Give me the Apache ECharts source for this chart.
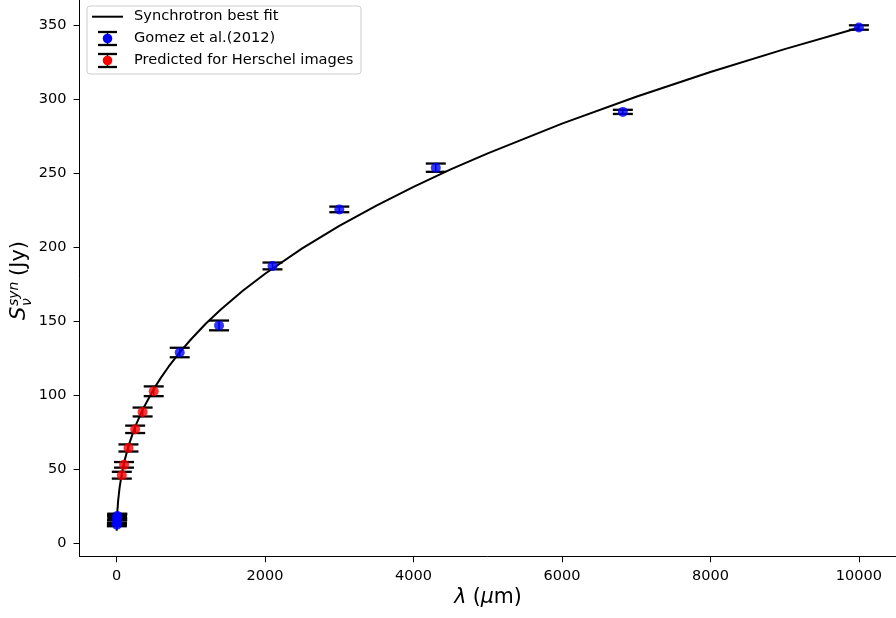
<!DOCTYPE html>
<html>
<head>
<meta charset="utf-8">
<script src="https://cdn.jsdelivr.net/npm/echarts@6/dist/echarts.min.js"></script>
<style>html,body{margin:0;padding:0;background:#fff;}#c{width:896px;height:618px;}</style>
</head>
<body>
<div id="c"></div>
<script>
// Synchrotron best-fit curve
const fitLambda = [1, 3, 6, 10, 20, 40, 70, 100, 160, 250, 350, 500, 600, 700, 850, 1000, 1200, 1400, 1700, 2000, 2500, 3000, 3500, 4000, 4500, 5000, 6000, 7000, 8000, 9000, 10000];
const fitFlux   = [8.5, 13.3, 17.5, 21.5, 28.5, 37.6, 47.1, 54.5, 65.8, 78.8, 90.2, 104.2, 112.1, 119.3, 129.0, 137.7, 148.3, 157.8, 170.6, 182.1, 199.3, 214.5, 228.2, 240.8, 252.6, 263.5, 283.6, 301.7, 318.4, 333.9, 348.4];

// Gomez et al. (2012)
const gomezLambda = [3.6, 4.5, 5.8, 8, 8.5, 850, 1380, 2100, 3000, 4300, 6820, 10000];
const gomezFlux   = [12.5, 14, 16, 17.5, 18.5, 128.9, 147.2, 187.4, 225.6, 253.8, 291.5, 348.5];
const gomezErr    = [1, 1.5, 2.5, 2, 1.5, 3.2, 3.3, 2.3, 1.9, 2.8, 1.4, 1.5];

// Predicted for Herschel images
const herschelLambda = [70, 100, 160, 250, 350, 500];
const herschelFlux   = [46, 53, 64.4, 77, 88.7, 102.7];
const herschelErr    = [2.3, 1.9, 2.4, 2.5, 3.0, 3.3];

const xTicks = [0, 2000, 4000, 6000, 8000, 10000];
const yTicks = [0, 50, 100, 150, 200, 250, 300, 350];

const FONT = 'DejaVu Sans';
const fitData = fitLambda.map((x, i) => [x, fitFlux[i]]);
const gomezData = gomezLambda.map((x, i) => [x, gomezFlux[i], gomezErr[i]]);
const herschelData = herschelLambda.map((x, i) => [x, herschelFlux[i], herschelErr[i]]);

function errRender(params, api) {
  const x = api.value(0), y = api.value(1), e = api.value(2);
  const t = api.coord([x, y + e]);
  const b = api.coord([x, y - e]);
  const hw = 10;
  return {
    type: 'group',
    children: [
      {type: 'line', shape: {x1: t[0], y1: t[1], x2: b[0], y2: b[1]}, style: {stroke: '#000', lineWidth: 1.5}},
      {type: 'line', shape: {x1: t[0] - hw, y1: t[1], x2: t[0] + hw, y2: t[1]}, style: {stroke: '#000', lineWidth: 2.3}},
      {type: 'line', shape: {x1: b[0] - hw, y1: b[1], x2: b[0] + hw, y2: b[1]}, style: {stroke: '#000', lineWidth: 2.3}}
    ]
  };
}

const chart = echarts.init(document.getElementById('c'), null, {renderer: 'canvas'});

const legendX = 87, legendY = 6;
function errIcon(cy, color) {
  const cx = 107.5;
  return [
    {type: 'line', shape: {x1: cx, y1: cy - 6, x2: cx, y2: cy + 6}, style: {stroke: '#000', lineWidth: 1.5}, z: 101},
    {type: 'line', shape: {x1: cx - 9.5, y1: cy - 6.5, x2: cx + 9.5, y2: cy - 6.5}, style: {stroke: '#000', lineWidth: 2.3}, z: 101},
    {type: 'line', shape: {x1: cx - 9.5, y1: cy + 6.5, x2: cx + 9.5, y2: cy + 6.5}, style: {stroke: '#000', lineWidth: 2.3}, z: 101},
    {type: 'circle', shape: {cx: cx, cy: cy, r: 4.8}, style: {fill: color}, z: 102}
  ];
}

const LEG_FONT = '14.6px "DejaVu Sans"';
const option = {
  animation: false,
  backgroundColor: '#fff',
  grid: {left: 79.5, top: 0, width: 818, height: 556.3, containLabel: false},
  xAxis: {
    type: 'value', min: -500, max: 10500,
    axisLine: {show: true, onZero: false, lineStyle: {color: '#000', width: 1}},
    axisTick: {show: true, length: 6, lineStyle: {color: '#000'}, customValues: xTicks},
    axisLabel: {color: '#000', fontSize: 14.5, fontFamily: FONT, margin: 12, customValues: xTicks,
                formatter: v => String(v)},
    splitLine: {show: false}
  },
  yAxis: {
    type: 'value', min: -8.8, max: 367.1,
    axisLine: {show: true, onZero: false, lineStyle: {color: '#000', width: 1}},
    axisTick: {show: true, length: 6, lineStyle: {color: '#000'}, customValues: yTicks},
    axisLabel: {color: '#000', fontSize: 14.5, fontFamily: FONT, margin: 13, customValues: yTicks,
                formatter: v => String(v)},
    splitLine: {show: false}
  },
  series: [
    {type: 'line', name: 'Synchrotron best fit', data: fitData, showSymbol: false, smooth: false,
     lineStyle: {color: '#000', width: 2}, z: 2},
    {type: 'custom', name: 'gomezErr', data: gomezData, renderItem: errRender, encode: {x: 0, y: 1}, z: 3, clip: false},
    {type: 'custom', name: 'herschelErr', data: herschelData, renderItem: errRender, encode: {x: 0, y: 1}, z: 3, clip: false},
    {type: 'scatter', name: 'Gomez et al.(2012)', data: gomezData.map(d => [d[0], d[1]]), symbolSize: 10,
     itemStyle: {color: '#0000ff'}, z: 4},
    {type: 'scatter', name: 'Predicted for Herschel images', data: herschelData.map(d => [d[0], d[1]]), symbolSize: 10,
     itemStyle: {color: '#ff0000'}, z: 4}
  ],
  graphic: [
    // legend
    {type: 'rect', shape: {x: legendX, y: legendY, width: 274, height: 68, r: 3},
     style: {fill: 'rgba(255,255,255,0.8)', stroke: '#cccccc', lineWidth: 1}, z: 100},
    {type: 'line', shape: {x1: 92, y1: 16.7, x2: 123, y2: 16.7}, style: {stroke: '#000', lineWidth: 2}, z: 101},
    {type: 'text', x: 134, y: 16.7, style: {text: 'Synchrotron best fit', font: LEG_FONT, fill: '#000', verticalAlign: 'middle'}, z: 101},
    ...errIcon(38.5, '#0000ff'),
    {type: 'text', x: 134, y: 38.5, style: {text: 'Gomez et al.(2012)', font: LEG_FONT, fill: '#000', verticalAlign: 'middle'}, z: 101},
    ...errIcon(60.5, '#ff0000'),
    {type: 'text', x: 134, y: 60.5, style: {text: 'Predicted for Herschel images', font: LEG_FONT, fill: '#000', verticalAlign: 'middle'}, z: 101},
    // x axis title
    {type: 'text', x: 488, y: 598, style: {
      text: '{i|λ} ({i|μ}m)', fontFamily: FONT, fontSize: 20.5, fill: '#000', align: 'center', verticalAlign: 'middle',
      rich: {i: {fontStyle: 'italic', fontFamily: FONT, fontSize: 20.5, fill: '#000'}}
    }},
    // y axis title (rotated)
    {type: 'group', x: 30, y: 320, rotation: Math.PI / 2, children: [
      {type: 'text', x: 0, y: 0, style: {text: 'S', font: 'italic 21px "DejaVu Sans"', fill: '#000', verticalAlign: 'bottom'}},
      {type: 'text', x: 14, y: -9, style: {text: 'syn', font: 'italic 14px "DejaVu Sans"', fill: '#000', verticalAlign: 'bottom'}},
      {type: 'text', x: 14, y: 4, style: {text: 'ν', font: 'italic 14px "DejaVu Sans"', fill: '#000', verticalAlign: 'bottom'}},
      {type: 'text', x: 44, y: 0, style: {text: '(Jy)', font: '21px "DejaVu Sans"', fill: '#000', verticalAlign: 'bottom'}}
    ]}
  ]
};
chart.setOption(option);
</script>
</body>
</html>
